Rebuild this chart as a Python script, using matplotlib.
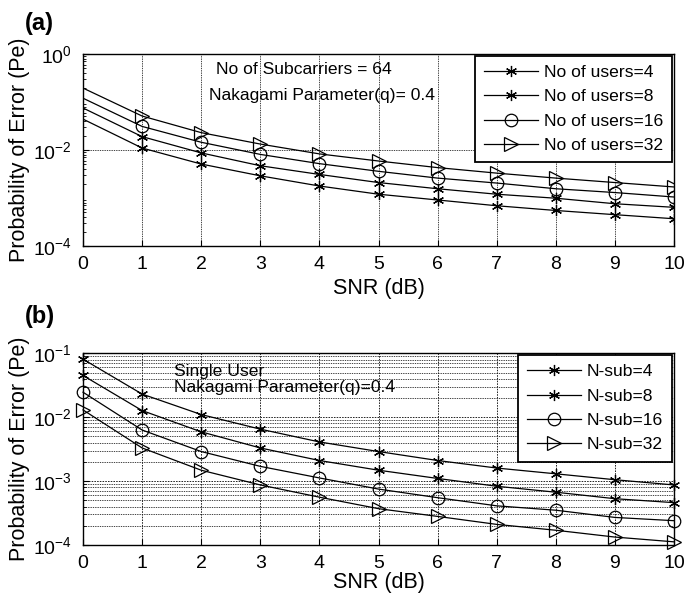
import matplotlib
matplotlib.use("Agg")
import matplotlib.pyplot as plt
from matplotlib.ticker import FixedLocator, LogLocator, NullFormatter, LogFormatterMathtext
import numpy as np

plt.rcParams['font.family'] = ['Liberation Sans', 'DejaVu Sans']
plt.rcParams['mathtext.fontset'] = 'custom'
plt.rcParams['mathtext.rm'] = 'Liberation Sans'

snr = [0, 1, 2, 3, 4, 5, 6, 7, 8, 9, 10]

# Panel (a): number of users
users_labels = ['No of users=4', 'No of users=8', 'No of users=16', 'No of users=32']
users4 = [0.044, 0.011, 0.0051, 0.0029, 0.00178, 0.0012, 0.00091, 0.00069, 0.00055, 0.00045, 0.00037]
users8 = [0.075, 0.019, 0.0087, 0.0047, 0.0031, 0.0021, 0.00156, 0.0012, 0.00099, 0.00076, 0.00064]
users16 = [0.12, 0.031, 0.0145, 0.0081, 0.0052, 0.0036, 0.0026, 0.00205, 0.00156, 0.0013, 0.00105]
users32 = [0.195, 0.051, 0.023, 0.0133, 0.0083, 0.0059, 0.0043, 0.0033, 0.0026, 0.0021, 0.0017]

# Panel (b): number of subcarriers, single user
nsub_labels = ['N-sub=4', 'N-sub=8', 'N-sub=16', 'N-sub=32']
nsub4 = [0.081, 0.023, 0.011, 0.0065, 0.0041, 0.0029, 0.0021, 0.0016, 0.0013, 0.00105, 0.00087]
nsub8 = [0.045, 0.0127, 0.0059, 0.0033, 0.0021, 0.00148, 0.0011, 0.00083, 0.00067, 0.00053, 0.00046]
nsub16 = [0.0246, 0.0063, 0.0029, 0.0017, 0.00112, 0.00075, 0.00055, 0.00041, 0.00035, 0.00027, 0.00024]
nsub32 = [0.0130, 0.0033, 0.00148, 0.00087, 0.00056, 0.00037, 0.00028, 0.00021, 0.00017, 0.000133, 0.000112]

asterisk = (6, 2, 0)
markers = [asterisk, asterisk, 'o', '>']
msizes = [8, 8, 9, 10]

fig = plt.figure(figsize=(6.85, 5.96), dpi=100)
ax1 = fig.add_axes([0.1212, 0.5872, 0.8628, 0.3222])
ax2 = fig.add_axes([0.1212, 0.0856, 0.8628, 0.3216])

LABEL_FS = 15.5
TICK_FS = 14
LEG_FS = 12.6
ANN_FS = 12.6
GRID_LS = (0, (1.6, 1.2))

def style(ax):
    ax.set_yscale('log')
    ax.set_xlim(0, 10)
    ax.set_xticks(snr)
    ax.tick_params(direction='in', which='both', labelsize=TICK_FS, length=4)
    ax.tick_params(axis='x', pad=7)
    ax.tick_params(axis='y', pad=8)
    for s in ax.spines.values():
        s.set_linewidth(1.0)
    ax.set_xlabel('SNR (dB)', fontsize=LABEL_FS)
    ax.set_ylabel('Probability of Error (Pe)', fontsize=LABEL_FS, labelpad=2)

def add_legend(ax):
    leg = ax.legend(loc='upper right', fontsize=LEG_FS, frameon=True, fancybox=False,
                    edgecolor='black', framealpha=1, borderaxespad=0.1,
                    handlelength=3.1, labelspacing=0.52, handletextpad=0.34, borderpad=0.52)
    leg.get_frame().set_linewidth(1.3)
    return leg

# (a)
series_a = [users4, users8, users16, users32]
for i, (ys, lab) in enumerate(zip(series_a, users_labels)):
    ax1.plot(snr, ys, color='black', lw=0.9, marker=markers[i], ms=msizes[i],
             mfc='none', mec='black', mew=0.9, markevery=list(range(1, 11)), label=lab)
style(ax1)
ax1.set_ylim(1e-4, 1)
ax1.yaxis.set_major_locator(FixedLocator([1e-4, 1e-2, 1]))
ax1.yaxis.set_major_formatter(LogFormatterMathtext())
ax1.yaxis.set_minor_locator(LogLocator(base=10, subs=np.arange(2, 10)))
ax1.yaxis.set_minor_formatter(NullFormatter())
ax1.tick_params(which='minor', length=2)
ax1.grid(True, which='major', color='#222222', ls=GRID_LS, lw=0.6)
ax1.text(0.225, 0.917, 'No of Subcarriers = 64', transform=ax1.transAxes,
         fontsize=ANN_FS, va='center')
ax1.text(0.213, 0.786, 'Nakagami Parameter(q)= 0.4', transform=ax1.transAxes,
         fontsize=ANN_FS, va='center')
add_legend(ax1)
fig.text(0.036, 0.95, '(a)', fontsize=17, fontweight='bold', va='baseline')

# (b)
series_b = [nsub4, nsub8, nsub16, nsub32]
for i, (ys, lab) in enumerate(zip(series_b, nsub_labels)):
    ax2.plot(snr, ys, color='black', lw=0.9, marker=markers[i], ms=msizes[i],
             mfc='none', mec='black', mew=0.9, label=lab, clip_on=False, zorder=3)
style(ax2)
ax2.set_ylim(1e-4, 1e-1)
ax2.yaxis.set_major_locator(FixedLocator([1e-4, 1e-3, 1e-2, 1e-1]))
ax2.yaxis.set_major_formatter(LogFormatterMathtext())
ax2.yaxis.set_minor_locator(LogLocator(base=10, subs=np.arange(2, 10)))
ax2.yaxis.set_minor_formatter(NullFormatter())
ax2.tick_params(which='minor', length=2)
ax2.xaxis.labelpad = 0
ax2.grid(True, which='major', color='#222222', ls=GRID_LS, lw=0.7)
ax2.grid(True, which='minor', axis='y', color='#222222', ls=GRID_LS, lw=0.6)
ax2.text(0.154, 0.906, 'Single User', transform=ax2.transAxes, fontsize=ANN_FS, va='center')
ax2.text(0.154, 0.824, 'Nakagami Parameter(q)=0.4', transform=ax2.transAxes,
         fontsize=ANN_FS, va='center')
add_legend(ax2)
fig.text(0.036, 0.458, '(b)', fontsize=17, fontweight='bold', va='baseline')

fig.savefig('out.png', dpi=100)
